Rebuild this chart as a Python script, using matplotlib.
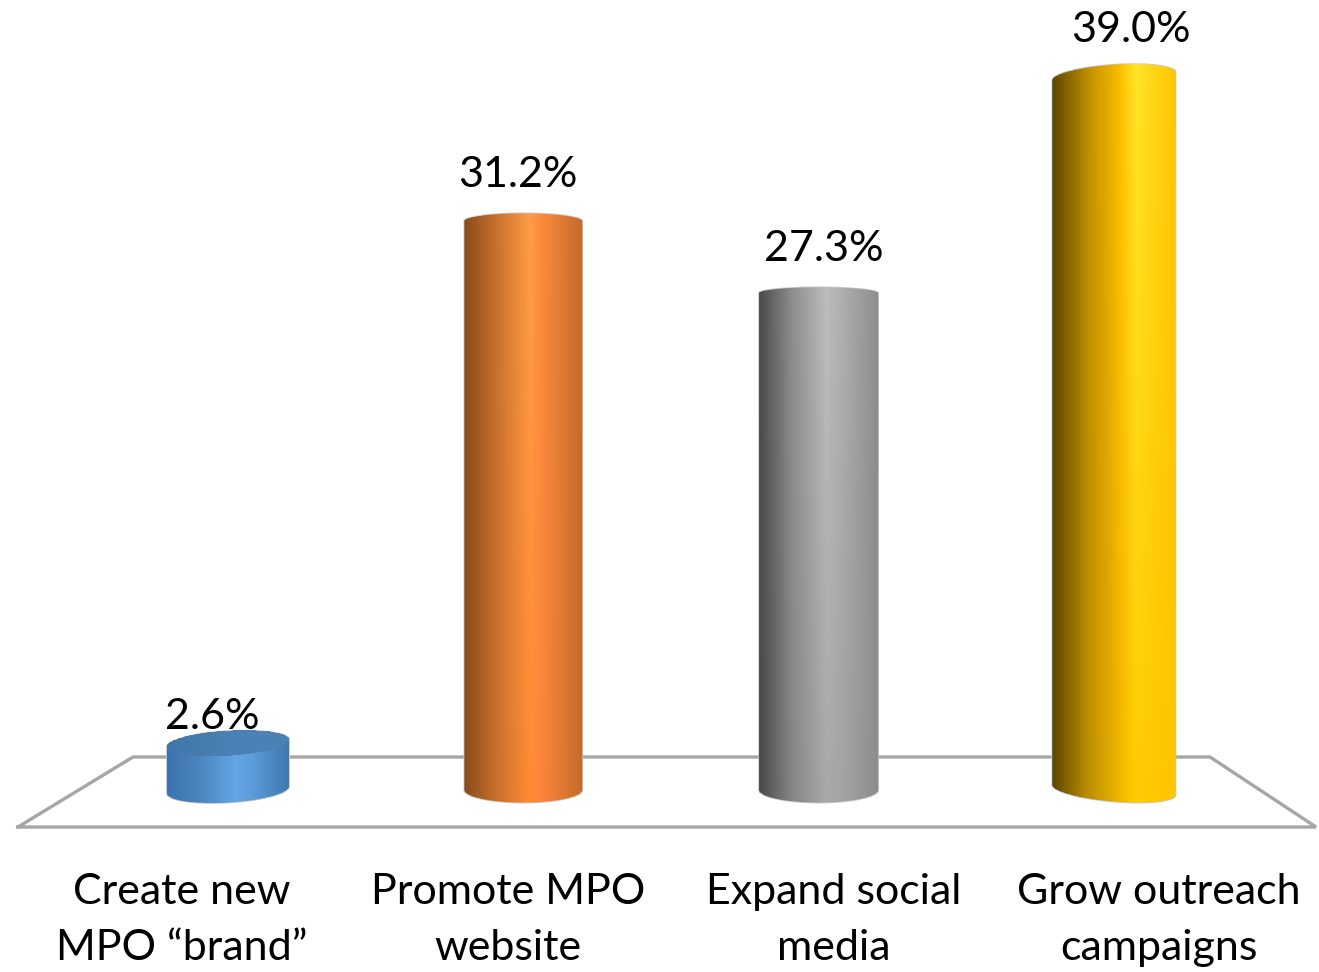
#!/usr/bin/python
import numpy as np
import matplotlib
matplotlib.use('agg')
import matplotlib.pyplot as plt
from matplotlib.path import Path
from matplotlib.patches import PathPatch
from matplotlib.colors import to_rgb

W, H = 1319, 972

# data
categories = ['Create new\nMPO \u201cbrand\u201d', 'Promote MPO\nwebsite',
              'Expand social\nmedia', 'Grow outreach\ncampaigns']
values = [2.6, 31.2, 27.3, 39.0]
value_labels = ['2.6%', '31.2%', '27.3%', '39.0%']

# style per bar
half_widths = [0.208, 0.201, 0.203, 0.21]
top_caps = [12.5, 8.0, 6.0, 12.0]
base_caps = [13.0, 13.0, 13.0, 12.0]
top_tilt = [3.5, 0.0, 0.0, 4.0]
base_tilt = [3.5, 0.0, 0.0, -5.0]
label_shift = [-16, -5, 5, 17]
label_lift = [7.5, 26.5, 24.5, 27.5]
label_x = [182, 508, 834, 1159]
stop_pos = [0.0, 0.27, 0.56, 0.68, 1.0]
grad_top = [
    ['#3a72ad', '#4b86c0', '#62a5e5', '#5c9ddc', '#3f78ac'],
    ['#8a4a1c', '#c8702c', '#ff9c45', '#f8883a', '#c46a2a'],
    ['#4a4a4a', '#8c8c8c', '#bcbcbc', '#b0b0b0', '#8c8c8c'],
    ['#5a4400', '#b88a00', '#ffc000', '#ffe428', '#ffc400'],
]
grad_bottom = [
    ['#3a72ad', '#4b86c0', '#62a5e5', '#5c9ddc', '#3f78ac'],
    ['#8a4a1c', '#c8702c', '#ff8a35', '#f8843a', '#c46a2a'],
    ['#484848', '#858585', '#a8a8a8', '#a4a4a4', '#8c8c8c'],
    ['#5a4400', '#b88a00', '#f2b800', '#ffcc00', '#ffc400'],
]
cap_colors = [['#3f76aa', '#4a80b4', '#4a82b8'], None, None, None]

PX_PER_UNIT = 18.0
BASE_PX = 790
BAR_PX0 = 228
BAR_STEP = 295.3
C = 0.00042      # slight perspective stretch on tall bars


def fw(v):
    v = np.asarray(v, dtype=float)
    return v / (1 - C * v)


def inv(u):
    u = np.asarray(u, dtype=float)
    return u / (1 + C * u)


def ramp(cols, n):
    stops = np.array([to_rgb(c) for c in cols])
    pos = np.linspace(0, 1, len(cols)) if len(cols) != len(stop_pos) else stop_pos
    t = np.linspace(0, 1, n)
    return np.column_stack([np.interp(t, pos, stops[:, k]) for k in range(3)])


def fill_clipped(ax, i, hw, lo, hi, colors_low, colors_high, clip, z):
    n = 120
    rows = 40
    edges = np.linspace(i - hw, i + hw, n + 1)
    yy = inv(np.linspace(lo, hi, rows + 1))
    low = ramp(colors_low, n)
    high = ramp(colors_high, n)
    mix = np.linspace(0, 1, rows)[:, np.newaxis, np.newaxis]
    rgb = low * (1 - mix) + high * mix
    mesh = ax.pcolormesh(edges, yy, rgb, zorder=z, shading='flat')
    mesh.set_clip_path(clip)


def draw_bar(ax, i):
    val = values[i]
    hw = half_widths[i]
    tc = top_caps[i] / PX_PER_UNIT
    bc = base_caps[i] / PX_PER_UNIT
    tt = top_tilt[i] / PX_PER_UNIT
    bt = base_tilt[i] / PX_PER_UNIT
    th = np.linspace(0, np.pi, 60)
    top = fw(val) + tc * np.sin(th) + tt * np.cos(th)
    bot = -bc * np.sin(th) - bt * np.cos(th)
    xs = np.concatenate([i + hw * np.cos(th), i - hw * np.cos(th)])
    ys = np.concatenate([top, bot])
    verts = np.column_stack([xs, inv(ys)])
    verts = np.vstack([verts, verts[0]])
    clip = PathPatch(Path(verts), facecolor='none', edgecolor='#c8c8c8', lw=0.6, zorder=4)
    ax.add_patch(clip)
    fill_clipped(ax, i, hw, -2 * bc, fw(val) + 2 * tc, grad_bottom[i], grad_top[i], clip, 3)

    # flat top of the short bar shows as a darker ellipse
    if cap_colors[i] is not None:
        th2 = np.linspace(0, 2 * np.pi, 120)
        cy = fw(val) + tc * np.sin(th2) + tt * np.cos(th2)
        cverts = np.column_stack([i + hw * np.cos(th2), inv(cy)])
        cap = PathPatch(Path(cverts), facecolor='none', edgecolor='none', zorder=4)
        ax.add_patch(cap)
        fill_clipped(ax, i, hw, fw(val) - 2 * tc, fw(val) + 2 * tc,
                     cap_colors[i], cap_colors[i], cap, 4)


fig = plt.figure(figsize=(W / 100.0, H / 100.0), dpi=100)
ax = fig.add_axes([0, 0, 1, 1])
ax.set_yscale('function', functions=(fw, inv))
ax.set_xlim(-BAR_PX0 / BAR_STEP, (W - BAR_PX0) / BAR_STEP)
ax.set_ylim(inv((BASE_PX - H) / PX_PER_UNIT), inv(BASE_PX / PX_PER_UNIT))
ax.axis('off')

# floor of the chart, in fractions of the picture
floor_x = np.array([18, 1316, 1210, 133, 18]) / W
floor_y = 1 - np.array([827, 827, 757, 757, 827]) / H
ax.plot(floor_x, floor_y, color='#a6a6a6', lw=2.4, transform=ax.transAxes,
        solid_joinstyle='miter', zorder=1, clip_on=False)

for i, val in enumerate(values):
    draw_bar(ax, i)
    ax.annotate(value_labels[i], (i, val), xytext=(label_shift[i] * 0.72, label_lift[i] * 0.72),
                textcoords='offset points', ha='center', va='bottom',
                fontsize=31, family='Lato', color='black', zorder=5)

for i, cat in enumerate(categories):
    ax.text(label_x[i] / W, 1 - 920 / H, cat, transform=ax.transAxes, ha='center',
            va='center', fontsize=31, family='Lato', color='black', linespacing=1.55)

plt.savefig('out.png', dpi=100)
plt.close(fig)
